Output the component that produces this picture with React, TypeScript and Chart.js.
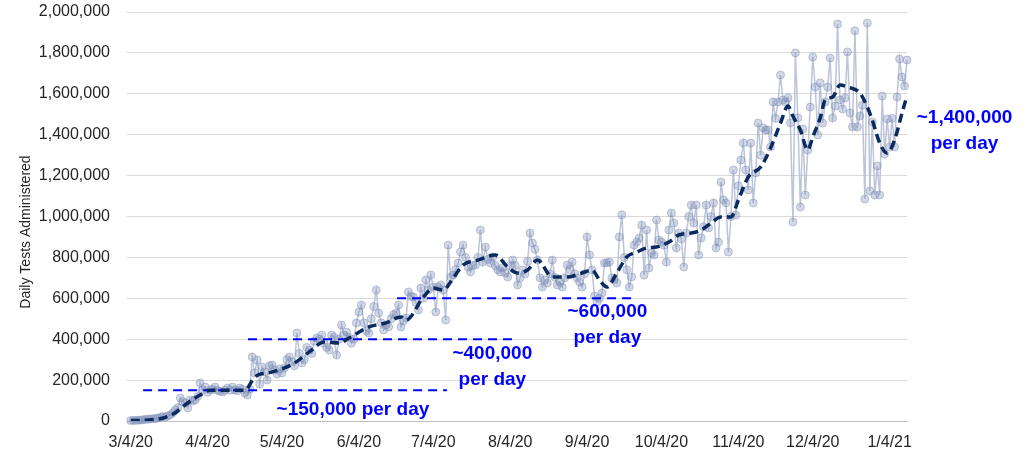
import React, { useEffect, useRef } from 'react';
import { Chart, registerables } from 'chart.js';

Chart.register(...registerables);

// Day index 0 = 3/4/20
const tickDays = [0, 31, 61, 92, 122, 153, 184, 214, 245, 275, 306];
const tickLabels = ['3/4/20', '4/4/20', '5/4/20', '6/4/20', '7/4/20', '8/4/20', '9/4/20', '10/4/20', '11/4/20', '12/4/20', '1/4/21'];

// Daily tests administered (thousands), one per day from 3/4/20
const dailyTests = [
  2, 3, 3, 4, 5, 6, 8, 9, 10, 11,
  12, 15, 18, 22, 20, 25, 30, 40, 54, 65,
  112, 95, 88, 64, 103, 98, 103, 120, 186, 152,
  166, 140, 152, 155, 166, 150, 145, 142, 150, 161,
  150, 166, 152, 148, 161, 155, 137, 127, 155, 313,
  235, 298, 180, 264, 240, 200, 270, 274, 250, 230,
  255, 235, 260, 300, 313, 290, 270, 430, 330, 284,
  300, 360, 347, 330, 390, 406, 400, 420, 380, 360,
  347, 420, 410, 323, 400, 469, 420, 435, 410, 380,
  400, 479, 533, 567, 480, 440, 430, 500, 560, 640,
  528, 480, 445, 470, 460, 500, 520, 528, 567, 460,
  490, 504, 631, 610, 606, 580, 543, 650, 600, 690,
  640, 714, 655, 533, 655, 665, 640, 494, 860, 704,
  714, 740, 773, 826, 860, 800, 753, 729, 760, 763,
  800, 934, 777, 851, 790, 773, 802, 760, 740, 729,
  750, 724, 704, 760, 787, 760, 665, 700, 738, 720,
  780, 919, 870, 840, 787, 700, 655, 690, 675, 720,
  787, 704, 665, 680, 655, 700, 763, 740, 777, 720,
  699, 680, 655, 720, 900, 812, 738, 611, 582, 600,
  626, 773, 773, 777, 699, 690, 675, 900, 1008, 800,
  740, 655, 704, 860, 875, 895, 958, 714, 934, 748,
  821, 812, 983, 885, 875, 860, 777, 934, 1017, 968,
  846, 919, 890, 753, 919, 1000, 1056, 968, 1056, 812,
  895, 950, 1056, 944, 1000, 1066, 846, 875, 1169, 1081,
  1066, 826, 1000, 1227, 1007, 1150, 1276, 1359, 1227, 1130,
  1359, 1066, 1213, 1457, 1300, 1433, 1423, 1423, 1340, 1560,
  1480, 1560, 1692, 1570, 1560, 1580, 1457, 973, 1800, 1482,
  1046, 1428, 1105, 1325, 1535, 1780, 1633, 1399, 1653, 1457,
  1560, 1633, 1775, 1482, 1540, 1941, 1570, 1526, 1580, 1805,
  1506, 1438, 1908, 1438, 1491, 1545, 1086, 1946, 1125, 1462,
  1105, 1247, 1105, 1589, 1306, 1477, 1340, 1480, 1340, 1584,
  1770, 1682, 1638, 1765,
];

// Smoothed trend: day index, thousands
const trendDays = [0, 6, 10, 14, 18, 21, 25, 28, 32, 38, 46, 50, 57, 62, 66, 72, 78, 84, 88, 96, 103, 109, 111, 118, 122, 126, 129, 134, 140, 147, 152, 156, 160, 164, 170, 176, 182, 186, 189, 192, 196, 200, 204, 208, 212, 217, 221, 226, 230, 234, 238, 242, 245, 249, 254, 258, 262, 265, 267, 270, 273, 275, 278, 280, 283, 286, 289, 294, 297, 299, 302, 305, 308, 311, 313];
const trendValues = [2, 4, 8, 18, 40, 70, 105, 127, 150, 150, 150, 215, 240, 260, 283, 338, 386, 381, 406, 460, 480, 509, 494, 606, 650, 640, 680, 763, 787, 812, 753, 724, 738, 787, 704, 704, 724, 738, 690, 655, 724, 802, 826, 846, 851, 875, 910, 919, 934, 968, 997, 997, 1081, 1193, 1242, 1335, 1457, 1540, 1490, 1423, 1325, 1389, 1482, 1570, 1584, 1643, 1633, 1604, 1535, 1472, 1359, 1310, 1374, 1506, 1590];

// Reference levels (thousands) with their day spans
const levelValues = [150, 400, 600];
const levelStarts = [5, 47.3, 107.4];
const levelEnds = [127.5, 153.7, 202.1];

const FONT = '"Liberation Sans", Arial, Helvetica, sans-serif';
const BLUE = '#0000ff';

const notes = [
  { lines: ['~150,000 per day'], d: 89.6, v: 54000 },
  { lines: ['~400,000', 'per day'], d: 145.8, v: 327000 },
  { lines: ['~600,000', 'per day'], d: 192.2, v: 533000 },
  { lines: ['~1,400,000', 'per day'], d: 336.2, v: 1482000 },
];

const overlayPlugin = {
  id: 'overlay',
  afterDatasetsDraw(chart: any) {
    const ctx = chart.ctx;
    const xs = chart.scales.x;
    const ys = chart.scales.y;
    ctx.save();
    ctx.fillStyle = BLUE;
    ctx.font = `bold 19px ${FONT}`;
    ctx.textAlign = 'center';
    ctx.textBaseline = 'middle';
    notes.forEach((n) => {
      const x = xs.getPixelForValue(n.d);
      const y = ys.getPixelForValue(n.v);
      n.lines.forEach((t, i) => ctx.fillText(t, x, y + i * 26));
    });
    ctx.restore();
    // y-axis title
    ctx.save();
    ctx.fillStyle = '#262626';
    ctx.font = `14px ${FONT}`;
    ctx.textAlign = 'center';
    ctx.textBaseline = 'middle';
    ctx.translate(26, 232);
    ctx.rotate(-Math.PI / 2);
    ctx.fillText('Daily Tests Administered', 0, 0);
    ctx.restore();
  },
};

export default function App() {
  const ref = useRef<HTMLCanvasElement>(null);
  useEffect(() => {
    if (!ref.current) return;
    const levelSets = levelValues.map((v, i) => ({
      data: [
        { x: levelStarts[i], y: v * 1000 },
        { x: levelEnds[i], y: v * 1000 },
      ],
      borderColor: BLUE,
      borderWidth: 2,
      borderDash: [9, 6],
      pointRadius: 0,
      fill: false,
    }));
    const chart = new Chart(ref.current, {
      type: 'line',
      data: {
        datasets: [
          {
            data: trendDays.map((d, i) => ({ x: d, y: trendValues[i] * 1000 })),
            borderColor: '#0b2a60',
            borderWidth: 3.5,
            borderDash: [9, 5],
            pointRadius: 0,
            cubicInterpolationMode: 'monotone',
            fill: false,
          },
          ...levelSets,
          {
            data: dailyTests.map((v, i) => ({ x: i, y: v * 1000 })),
            borderColor: 'rgba(170,181,208,0.8)',
            borderWidth: 1.5,
            pointRadius: 4,
            pointBackgroundColor: 'rgba(125,142,182,0.35)',
            pointBorderColor: 'rgba(125,142,182,0.45)',
            pointBorderWidth: 1,
            fill: false,
            clip: false,
          },
        ] as any,
      },
      options: {
        animation: false,
        responsive: false,
        maintainAspectRatio: false,
        layout: { padding: { left: 0, right: 121, top: 12, bottom: 0 } },
        plugins: { legend: { display: false }, tooltip: { enabled: false } },
        scales: {
          x: {
            type: 'linear',
            min: -1.5,
            max: 313,
            afterBuildTicks: (s: any) => {
              s.ticks = tickDays.map((v) => ({ value: v }));
            },
            afterFit: (s: any) => {
              s.height = 36;
              s.paddingLeft = 0;
              s.paddingRight = 0;
            },
            ticks: {
              autoSkip: false,
              maxRotation: 0,
              minRotation: 0,
              padding: 12,
              color: '#262626',
              font: { family: FONT, size: 16 },
              callback: (v: any) => {
                const i = tickDays.indexOf(Number(v));
                return i >= 0 ? tickLabels[i] : '';
              },
            },
            grid: { display: false, drawTicks: false },
            border: { display: true, color: '#bfbfbf', width: 1 },
          },
          y: {
            min: 0,
            max: 2000000,
            afterFit: (s: any) => {
              s.width = 127;
              s.paddingTop = 0;
              s.paddingBottom = 0;
            },
            ticks: {
              stepSize: 200000,
              padding: 17,
              color: '#262626',
              font: { family: FONT, size: 16 },
              callback: (v: any) => Number(v).toLocaleString('en-US'),
            },
            grid: { color: '#d9d9d9', drawTicks: false },
            border: { display: false },
          },
        },
      } as any,
      plugins: [overlayPlugin],
    });
    return () => chart.destroy();
  }, []);
  return (
    <div style={{ position: 'fixed', left: 0, top: 0, width: 1028, height: 457, background: '#fff' }}>
      <canvas ref={ref} width={1028} height={457} style={{ width: 1028, height: 457, display: 'block' }} />
    </div>
  );
}
